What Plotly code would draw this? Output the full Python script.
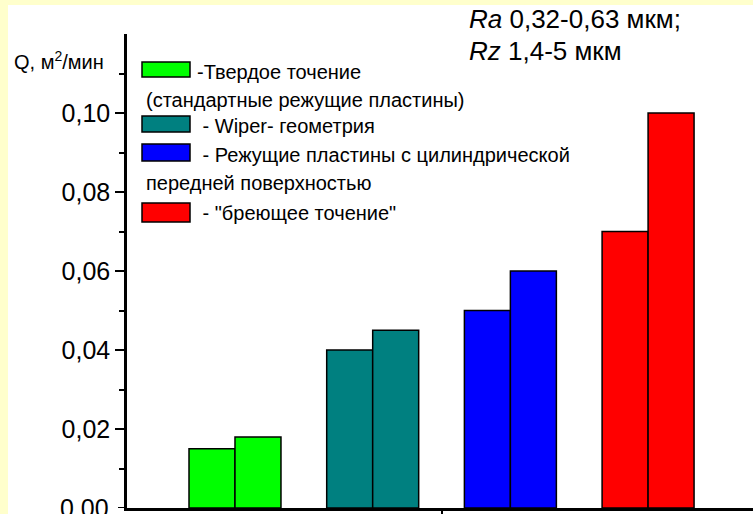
import plotly.graph_objects as go

# Group positions and bar heights (two bars per machining method)
group_pos = [1, 2, 3, 4]
first_bar = [0.015, 0.040, 0.050, 0.070]
second_bar = [0.018, 0.045, 0.060, 0.100]
group_colors = ["#00FF00", "#008080", "#0000FF", "#FF0000"]

y_ticks = [0.02, 0.04, 0.06, 0.08, 0.10]
y_tick_text = ["0,02", "0,04", "0,06", "0,08", "0,10"]
y_zero_text = "0,00"

legend_lines = [
    ("-Твердое точение", "(стандартные режущие пластины)"),
    (" - Wiper- геометрия", None),
    (" - Режущие пластины с цилиндрической", "передней поверхностью"),
    (" - \"бреющее точение\"", None),
]

W, H = 753, 514
L, R, T, B = 127, 0, 34, 6
PW, PH = W - L - R, H - T - B

FONT = "Arial, 'Liberation Sans', sans-serif"
TICK_SIZE = 25


def px(x):
    return (x - L) / PW


def py(y):
    return (H - B - y) / PH


fig = go.Figure()
for vals in (first_bar, second_bar):
    fig.add_trace(go.Bar(
        x=group_pos, y=vals,
        marker=dict(color=group_colors, line=dict(color="black", width=1.5)),
        showlegend=False,
    ))

shapes = [
    # white sheet on the pale yellow page
    dict(type="rect", xref="paper", yref="paper", layer="below",
         x0=px(8), x1=px(W + 5), y0=py(H + 5), y1=py(5),
         fillcolor="white", line=dict(width=0)),
    # tick at the origin of the value axis
    dict(type="line", xref="paper", yref="y", x0=px(118), x1=0,
         y0=0, y1=0, line=dict(color="black", width=2)),
]

annotations = [
    dict(text="Q, м<sup>2</sup>/мин", xref="paper", yref="paper",
         x=px(12), y=py(60), xanchor="left", yanchor="middle",
         showarrow=False, font=dict(size=20, color="black", family=FONT)),
    dict(text="<i>Ra</i> 0,32-0,63 мкм;", xref="paper", yref="paper",
         x=px(467), y=py(19), xanchor="left", yanchor="middle",
         showarrow=False, font=dict(size=26, color="black", family=FONT)),
    dict(text="<i>Rz</i> 1,4-5 мкм", xref="paper", yref="paper",
         x=px(467), y=py(51), xanchor="left", yanchor="middle",
         showarrow=False, font=dict(size=26, color="black", family=FONT)),
    # the zero label sits on the lower edge of the page
    dict(text=y_zero_text, xref="paper", yref="y",
         x=px(111), y=0, xanchor="right", yanchor="middle",
         showarrow=False, font=dict(size=TICK_SIZE, color="black", family=FONT)),
]

# hand-built legend: swatch + caption, with an optional second caption line
swatch_rows = [(62, 77), (116, 132), (144, 161), (203, 222)]
caption_y = [72, 126, 155, 213]
second_y = [100, None, 183, None]
for (y0, y1), cy, sy, color, (first, second) in zip(
        swatch_rows, caption_y, second_y, group_colors, legend_lines):
    shapes.append(dict(type="rect", xref="paper", yref="paper",
                       x0=px(142), x1=px(190), y0=py(y1), y1=py(y0),
                       fillcolor=color, line=dict(color="black", width=1.5)))
    annotations.append(dict(text=first, xref="paper", yref="paper",
                            x=px(195), y=py(cy), xanchor="left", yanchor="middle",
                            showarrow=False,
                            font=dict(size=20, color="black", family=FONT)))
    if second:
        annotations.append(dict(text=second, xref="paper", yref="paper",
                                x=px(144), y=py(sy), xanchor="left",
                                yanchor="middle", showarrow=False,
                                font=dict(size=20, color="black", family=FONT)))

fig.update_layout(
    width=W, height=H,
    margin=dict(l=L, r=R, t=T, b=B),
    paper_bgcolor="#FFFFCC",
    plot_bgcolor="white",
    barmode="group", bargap=0.332, bargroupgap=0,
    shapes=shapes, annotations=annotations,
    font=dict(family=FONT, color="black"),
    xaxis=dict(range=[0.2157, 4.762], showgrid=False, zeroline=False,
               showline=True, linecolor="black", linewidth=2.5,
               tickmode="array", tickvals=[2.5], showticklabels=False,
               ticks="outside", ticklen=7, tickwidth=2, tickcolor="black"),
    yaxis=dict(range=[0, 0.12], showgrid=False, zeroline=False,
               showline=True, linecolor="black", linewidth=2.5,
               tickmode="array", tickvals=y_ticks, ticktext=y_tick_text,
               ticks="outside", ticklen=9, tickwidth=2, tickcolor="black",
               tickfont=dict(size=TICK_SIZE, color="black", family=FONT),
               minor=dict(tickvals=[0.01, 0.03, 0.05, 0.07, 0.09, 0.11],
                          ticks="outside", ticklen=5, tickwidth=2,
                          tickcolor="black")),
)

fig.write_html("out.html")
